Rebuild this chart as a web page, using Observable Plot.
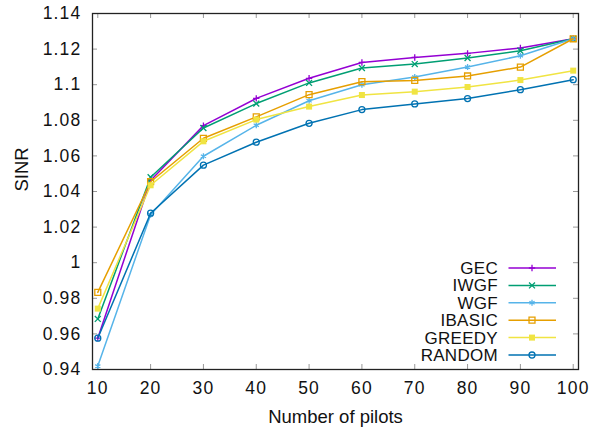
<!DOCTYPE html>
<html>
<head>
<meta charset="utf-8">
<script src="https://cdn.jsdelivr.net/npm/d3@7"></script>
<script src="https://cdn.jsdelivr.net/npm/@observablehq/plot@0.6"></script>
<style>
  html, body { margin: 0; padding: 0; background: #fff; }
  #chart { width: 592px; height: 430px; }
</style>
</head>
<body>
<div id="chart"></div>
<script>
// ---- data ----
const pilots = [10, 20, 30, 40, 50, 60, 70, 80, 90, 100];
const seriesNames = ["GEC", "IWGF", "WGF", "IBASIC", "GREEDY", "RANDOM"];
const GEC    = [0.9576, 1.0462, 1.0770, 1.0923, 1.1036, 1.1125, 1.1153, 1.1176, 1.1206, 1.1258];
const IWGF   = [0.9684, 1.0480, 1.0757, 1.0894, 1.1010, 1.1094, 1.1116, 1.1150, 1.1191, 1.1258];
const WGF    = [0.9419, 1.0270, 1.0598, 1.0772, 1.0910, 1.1000, 1.1043, 1.1099, 1.1163, 1.1258];
const IBASIC = [0.9833, 1.0455, 1.0699, 1.0819, 1.0944, 1.1017, 1.1024, 1.1049, 1.1099, 1.1258];
const GREEDY = [0.9742, 1.0435, 1.0682, 1.0804, 1.0877, 1.0942, 1.0961, 1.0987, 1.1026, 1.1079];
const RANDOM = [0.9576, 1.0278, 1.0548, 1.0677, 1.0783, 1.0860, 1.0892, 1.0922, 1.0972, 1.1028];
const xTicks = [10, 20, 30, 40, 50, 60, 70, 80, 90, 100];
const yTicks = [0.94, 0.96, 0.98, 1.00, 1.02, 1.04, 1.06, 1.08, 1.10, 1.12, 1.14];
const xLabel = "Number of pilots";
const yLabel = "SINR";

const valuesByName = {GEC, IWGF, WGF, IBASIC, GREEDY, RANDOM};

// ---- styles ----
const styles = {
  GEC:    {color: "#9400d3", symbol: "plus",     r: 2.2, filled: false},
  IWGF:   {color: "#009e73", symbol: "times",    r: 2.8, filled: false},
  WGF:    {color: "#56b4e9", symbol: "asterisk", r: 2.8, filled: false},
  IBASIC: {color: "#e69f00", symbol: "square2",  r: 3.8, filled: false},
  GREEDY: {color: "#f0e442", symbol: "square",   r: 3.4, filled: true},
  RANDOM: {color: "#0072b2", symbol: "circle",   r: 3.0, filled: false}
};
const d3Symbols = {
  plus: d3.symbolPlus, times: d3.symbolTimes, asterisk: d3.symbolAsterisk,
  square2: d3.symbolSquare2, square: d3.symbolSquare, circle: d3.symbolCircle
};

const W = 592, H = 430;
const mL = 92, mR = 14, mT = 13, mB = 61;
const innerH = H - mT - mB, innerW = W - mL - mR;
const tickLen = 5;
const font = "'Liberation Sans', Arial, Helvetica, sans-serif";
const fsTick = 17.5, fsTitle = 18.5, fsLegend = 17;

const rows = seriesNames.map(name =>
  pilots.map((p, i) => ({name, x: p, y: valuesByName[name][i]}))
);

const marks = [];
// inward ticks (bottom/top/left/right)
marks.push(Plot.tickX(xTicks, {x: d => d, insetTop: innerH - tickLen, stroke: "#999", strokeWidth: 1}));
marks.push(Plot.tickX(xTicks, {x: d => d, insetBottom: innerH - tickLen, stroke: "#999", strokeWidth: 1}));
marks.push(Plot.tickY(yTicks, {y: d => d, insetRight: innerW - tickLen, stroke: "#999", strokeWidth: 1}));
marks.push(Plot.tickY(yTicks, {y: d => d, insetLeft: innerW - tickLen, stroke: "#999", strokeWidth: 1}));

seriesNames.forEach((name, k) => {
  const s = styles[name];
  marks.push(Plot.line(rows[k], {x: "x", y: "y", stroke: s.color, strokeWidth: 1.5}));
  marks.push(Plot.dot(rows[k], {
    x: "x", y: "y", symbol: s.symbol, r: s.r,
    fill: s.filled ? s.color : "none",
    stroke: s.filled ? "none" : s.color,
    strokeWidth: 1.3
  }));
});

marks.push(Plot.frame({stroke: "#222", strokeWidth: 1.3}));
marks.push(Plot.axisX({ticks: xTicks, tickSize: 0, tickPadding: 12, tickFormat: d => String(d), label: null, fontSize: fsTick}));
marks.push(Plot.axisY({ticks: yTicks, tickSize: 0, tickPadding: 11, tickFormat: d => String(+d.toFixed(2)), label: null, fontSize: fsTick}));
marks.push(Plot.text([xLabel], {text: d => d, frameAnchor: "bottom", dy: 48, lineAnchor: "middle", fontSize: fsTitle, fill: "#111", ariaLabel: "x-title"}));
marks.push(Plot.text([yLabel], {text: d => d, frameAnchor: "left", dx: -70, rotate: -90, lineAnchor: "middle", fontSize: fsTitle, fill: "#111", ariaLabel: "y-title"}));

const plot = Plot.plot({
  width: W, height: H,
  marginLeft: mL, marginRight: mR, marginTop: mT, marginBottom: mB,
  x: {domain: [9, 101]},
  y: {domain: [0.94, 1.14]},
  style: {fontFamily: font, fontSize: fsTick + "px", color: "#111", background: "#fff"},
  marks
});

const svg = d3.select(plot);
svg.selectAll('g[aria-label="x-axis tick label"] text, g[aria-label="y-axis tick label"] text')
  .attr("letter-spacing", 1.2);
svg.selectAll('g[aria-label="x-title"] text').attr("letter-spacing", 0.3);

// ---- legend (inside plot, bottom right) ----
const xr = plot.scale("x").range;  // [left, right]
const yr = plot.scale("y").range;  // [bottom, top]
const right = Math.max(...xr), bottom = Math.max(...yr);
const rowGap = 17.4;
const firstOffset = 14; // RANDOM row above bottom
const textX = right - 80;
const lineX1 = right - 69.5, lineX2 = right - 22, symX = right - 46;
const lg = svg.append("g").attr("font-family", font).attr("font-size", fsLegend).attr("letter-spacing", 0.3);
seriesNames.forEach((name, i) => {
  const s = styles[name];
  const y = bottom - firstOffset - (seriesNames.length - 1 - i) * rowGap;
  lg.append("text").attr("x", textX).attr("y", y).attr("dy", "0.35em")
    .attr("text-anchor", "end").attr("fill", "#111").text(name);
  lg.append("line").attr("x1", lineX1).attr("x2", lineX2).attr("y1", y).attr("y2", y)
    .attr("stroke", s.color).attr("stroke-width", 1.5);
  lg.append("path")
    .attr("transform", `translate(${symX},${y})`)
    .attr("d", d3.symbol(d3Symbols[s.symbol], Math.PI * s.r * s.r)())
    .attr("fill", s.filled ? s.color : "none")
    .attr("stroke", s.filled ? "none" : s.color)
    .attr("stroke-width", 1.3);
});

document.getElementById("chart").appendChild(plot);
</script>
</body>
</html>
